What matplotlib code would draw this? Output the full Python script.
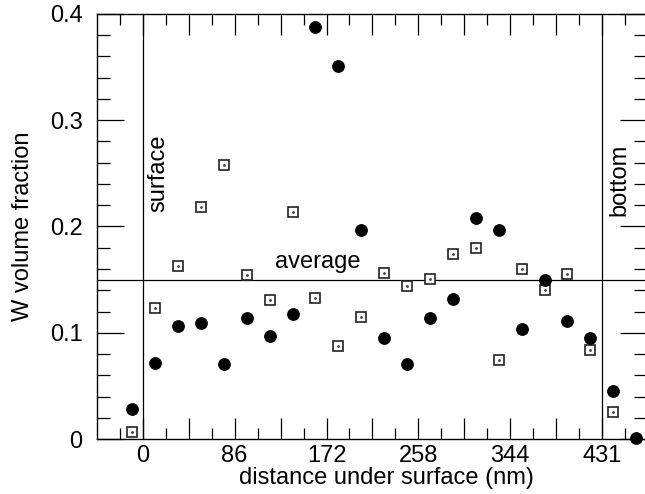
import matplotlib
matplotlib.use('Agg')
from matplotlib import pyplot as plt
from matplotlib.ticker import MultipleLocator, FixedLocator, FixedFormatter
import numpy as np

plt.rcParams['font.family'] = ['Liberation Sans', 'DejaVu Sans']

# depth of each slice centre (nm)
depth = [-10, 11.5, 33, 54.5, 76, 97.5, 119, 140.5, 162, 183.5, 205, 226.5,
         248, 269.5, 291, 312.5, 334, 355.5, 377, 398.5, 420, 441.5, 463]

# filled circles
w_circles = [0.028, 0.072, 0.106, 0.109, 0.071, 0.114, 0.097, 0.118, 0.388,
             0.351, 0.197, 0.095, 0.071, 0.114, 0.132, 0.208, 0.197, 0.104,
             0.150, 0.111, 0.095, 0.045, 0.001]

# open squares (none at the last depth)
w_squares = [0.007, 0.123, 0.163, 0.218, 0.258, 0.154, 0.131, 0.214, 0.133,
             0.088, 0.115, 0.156, 0.144, 0.151, 0.174, 0.180, 0.074, 0.160,
             0.140, 0.155, 0.084, 0.025]

surface_depth = 0
bottom_depth = 431
average = 0.15

x_ticks = [0, 43.1, 86.2, 129.3, 172.4, 215.5, 258.6, 301.7, 344.8, 387.9, 431]
x_tick_labels = ['0', '', '86', '', '172', '', '258', '', '344', '', '431']
y_ticks = [0, 0.1, 0.2, 0.3, 0.4]
y_tick_labels = ['0', '0.1', '0.2', '0.3', '0.4']

fig = plt.figure(figsize=(6.45, 4.94), dpi=100)
ax = fig.add_axes([0.1504, 0.1113, 0.8524, 0.8604])

ax.axvline(surface_depth, color='k', lw=0.9, zorder=1)
ax.axvline(bottom_depth, color='k', lw=0.9, zorder=1)
ax.axhline(average, color='k', lw=0.9, zorder=1)

sq_x = depth[:len(w_squares)]
ax.plot(sq_x, w_squares, ls='none', marker='s', markersize=7.2,
        markerfacecolor='white', markeredgecolor='#222222',
        markeredgewidth=1.2, zorder=3, clip_on=False)
ax.plot(sq_x, w_squares, ls='none', marker='o', markersize=1.0,
        color='#444444', zorder=4, clip_on=False)
ax.plot(depth, w_circles, ls='none', marker='o', markersize=8.2,
        color='black', zorder=5, clip_on=False)

ax.text(164, 0.1605, 'average', ha='center', va='baseline', fontsize=17)
ax.text(15, 0.250, 'surface', rotation=90, ha='center', va='center',
        fontsize=17)
ax.text(447, 0.2437, 'bottom', rotation=90, ha='center', va='center',
        fontsize=17)

ax.set_xlim(-43, 473)
ax.set_ylim(0, 0.4)

ax.xaxis.set_major_locator(FixedLocator(x_ticks))
ax.xaxis.set_major_formatter(FixedFormatter(x_tick_labels))
ax.xaxis.set_minor_locator(MultipleLocator(21.55))
ax.yaxis.set_major_locator(FixedLocator(y_ticks))
ax.yaxis.set_major_formatter(FixedFormatter(y_tick_labels))
ax.yaxis.set_minor_locator(MultipleLocator(0.02))

ax.tick_params(axis='both', which='both', direction='in', top=True,
               right=True, width=0.9, labelsize=17)
ax.tick_params(axis='x', which='major', length=15, pad=4)
ax.tick_params(axis='x', which='minor', length=7.6)
ax.tick_params(axis='y', which='major', length=19.4, pad=10.5)
ax.tick_params(axis='y', which='minor', length=9.4)

for s in ax.spines.values():
  s.set_linewidth(1.0)

ax.set_xlabel('distance under surface (nm)', fontsize=17, labelpad=0,
              x=0.527)
ax.set_ylabel('W volume fraction', fontsize=17, labelpad=11)

fig.savefig('out.png', dpi=100)
